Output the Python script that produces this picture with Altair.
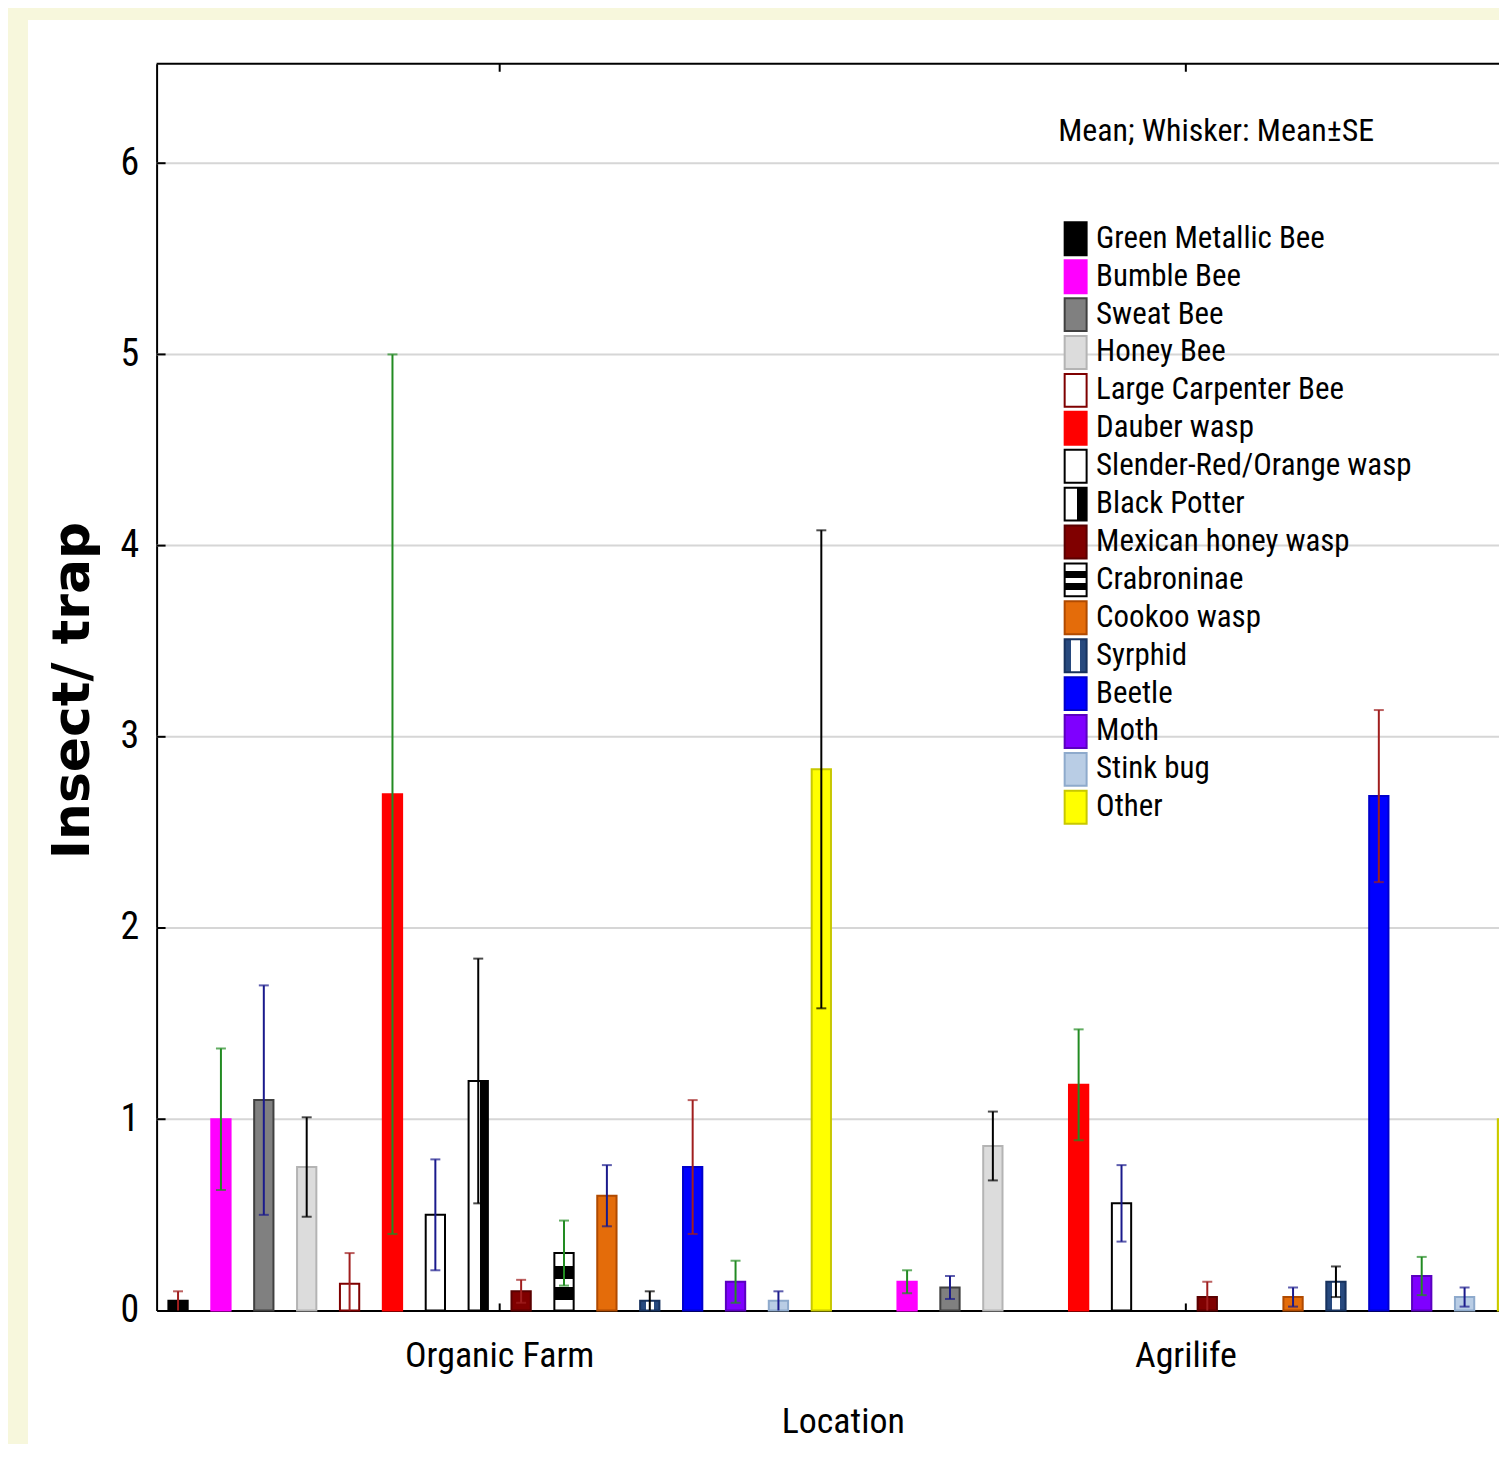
import altair as alt
import pandas as pd

locations = ["Organic Farm", "Agrilife"]
species = [
    "Green Metallic Bee", "Bumble Bee", "Sweat Bee", "Honey Bee",
    "Large Carpenter Bee", "Dauber wasp", "Slender-Red/Orange wasp",
    "Black Potter", "Mexican honey wasp", "Crabroninae", "Cookoo wasp",
    "Syrphid", "Beetle", "Moth", "Stink bug", "Other",
]
organic_mean = [0.05, 1.00, 1.10, 0.75, 0.14, 2.70, 0.50, 1.20, 0.10, 0.30, 0.60, 0.05, 0.75, 0.15, 0.05, 2.83]
organic_se = [0.05, 0.37, 0.60, 0.26, 0.16, 2.30, 0.29, 0.64, 0.06, 0.17, 0.16, 0.05, 0.35, 0.11, 0.05, 1.25]
agrilife_mean = [0.00, 0.15, 0.12, 0.86, 0.00, 1.18, 0.56, 0.00, 0.07, 0.00, 0.07, 0.15, 2.69, 0.18, 0.07, 1.00]
agrilife_se = [0.00, 0.06, 0.06, 0.18, 0.00, 0.29, 0.20, 0.00, 0.08, 0.00, 0.05, 0.08, 0.45, 0.10, 0.05, 0.45]

BLACK_POTTER = {"expr": "{gradient: 'linear', x1: 0, y1: 0, x2: 1, y2: 0, stops: ["
                        "{offset: 0, color: '#ffffff'}, {offset: 0.58, color: '#ffffff'}, "
                        "{offset: 0.58, color: '#000000'}, {offset: 1, color: '#000000'}]}"}
CRABRONINAE = {"expr": "{gradient: 'linear', x1: 0, y1: 0, x2: 0, y2: 1, stops: ["
                       "{offset: 0, color: '#ffffff'}, {offset: 0.22, color: '#ffffff'}, "
                       "{offset: 0.22, color: '#000000'}, {offset: 0.45, color: '#000000'}, "
                       "{offset: 0.45, color: '#ffffff'}, {offset: 0.6, color: '#ffffff'}, "
                       "{offset: 0.6, color: '#000000'}, {offset: 0.82, color: '#000000'}, "
                       "{offset: 0.82, color: '#ffffff'}, {offset: 1, color: '#ffffff'}]}"}
SYRPHID = {"expr": "{gradient: 'linear', x1: 0, y1: 0, x2: 1, y2: 0, stops: ["
                   "{offset: 0, color: '#27497e'}, {offset: 0.3, color: '#27497e'}, "
                   "{offset: 0.3, color: '#ffffff'}, {offset: 0.7, color: '#ffffff'}, "
                   "{offset: 0.7, color: '#27497e'}, {offset: 1, color: '#27497e'}]}"}

fill_colors = ["#000000", "#ff00ff", "#808080", "#dcdcdc", "#ffffff", "#ff0000", "#ffffff", BLACK_POTTER,
               "#800000", CRABRONINAE, "#e46c0a", SYRPHID, "#0000ff", "#7f00ff", "#b9cde5", "#ffff00"]
stroke_colors = ["#000000", "#ff00ff", "#404040", "#b4b4b4", "#7f0000", "#ff0000", "#000000", "#000000",
                 "#5a0000", "#000000", "#b04a00", "#17325e", "#0000cc", "#5a00c0", "#8eaacc", "#c8c800"]
whisker_colors = ["#a01e1e", "#228b22", "#1a1a8c", "#000000"]
y_ticks = [0, 1, 2, 3, 4, 5, 6]

rows = []
for loc, means, ses in ((locations[0], organic_mean, organic_se),
                        (locations[1], agrilife_mean, agrilife_se)):
    for i, (sp, m, s) in enumerate(zip(species, means, ses)):
        if m <= 0:
            continue
        rows.append({"Location": loc, "Species": sp, "mean": m,
                     "lo": max(0.0, m - s), "hi": m + s,
                     "wcolor": whisker_colors[i % 4]})
df = pd.DataFrame(rows)
grid_df = pd.DataFrame({"v": y_ticks[1:]})
loc_df = pd.DataFrame({"Location": locations})
one = pd.DataFrame({"k": [0]})

W, H, XR = 1346, 1250, 1376
NARROW = "Roboto Condensed, Liberation Sans Narrow, Liberation Sans, sans-serif"

yscale = alt.Scale(domain=[0, 6.52], nice=False, zero=True)
xscale = alt.Scale(domain=locations, range=[0, XR], paddingInner=0, paddingOuter=0)
oscale = alt.Scale(domain=species, paddingInner=0.55, paddingOuter=0.275)

x_axis = alt.Axis(title="Location", labelAngle=0, labelFont=NARROW, labelFontSize=36,
                  labelColor="#000000", labelPadding=28, labelLimit=600, ticks=False, grid=False,
                  domainColor="#000000", domainWidth=2, titleFont=NARROW, titleFontSize=36,
                  titleFontWeight="normal", titleColor="#000000", titleY=94,
                  titleBaseline="top", titleLimit=600)
y_axis = alt.Axis(title="Insect/ trap", values=y_ticks, format="d", labelFont=NARROW,
                  labelFontSize=38, labelColor="#000000", labelPadding=18, ticks=False,
                  grid=False, domainColor="#000000", domainWidth=2,
                  titleFont="DejaVu Sans", titleFontSize=52, titleFontWeight="bold",
                  titleColor="#000000", titleX=-57, titleY=628, titleAngle=270,
                  titleAlign="center", titleBaseline="bottom", titleLimit=800)

legend = alt.Legend(title="Mean; Whisker: Mean±SE", orient="none", legendX=904, legendY=52,
                    titleFont=NARROW, titleFontSize=32, titleFontWeight="normal",
                    titleColor="#000000", titlePadding=74, titleLimit=800,
                    labelFont=NARROW, labelFontSize=31,
                    labelColor="#000000", labelLimit=800, labelOffset=3,
                    symbolType="M-0.667,-1H0.667V1H-0.667Z", symbolSize=1089,
                    symbolStrokeWidth=2, rowPadding=-5, padding=0)


def xenc():
    return alt.X("Location:N", sort=locations, scale=xscale, axis=x_axis)


def oenc():
    return alt.XOffset("Species:N", sort=species, scale=oscale)


def yenc(field):
    return alt.Y(field, scale=yscale, axis=y_axis)


strip_left = alt.Chart(one).mark_rect(color="#f7f7dc").encode(
    x=alt.value(-160), x2=alt.value(-129), y=alt.value(-70), y2=alt.value(H + 300))
strip_top = alt.Chart(one).mark_rect(color="#f7f7dc").encode(
    x=alt.value(-160), x2=alt.value(XR + 100), y=alt.value(-70), y2=alt.value(-44))

grid = alt.Chart(grid_df).mark_rule(color="#d6d6d6", strokeWidth=2).encode(
    y=yenc("v:Q"), x=alt.value(0), x2=alt.value(XR))

bars = alt.Chart(df).mark_bar(strokeWidth=2).encode(
    x=xenc(), xOffset=oenc(), y=yenc("mean:Q"),
    fill=alt.Fill("Species:N", scale=alt.Scale(domain=species, range=fill_colors), legend=legend),
    stroke=alt.Stroke("Species:N", scale=alt.Scale(domain=species, range=stroke_colors), legend=legend),
)

whisk = alt.Chart(df).mark_rule(strokeWidth=2).encode(
    x=xenc(), xOffset=oenc(), y=yenc("lo:Q"), y2="hi:Q",
    color=alt.Color("wcolor:N", scale=None),
)

cap_hi = alt.Chart(df).mark_tick(size=10, thickness=2).encode(
    x=xenc(), xOffset=oenc(), y=yenc("hi:Q"),
    color=alt.Color("wcolor:N", scale=None),
)
cap_lo = alt.Chart(df).transform_filter("datum.lo > 0").mark_tick(size=10, thickness=2).encode(
    x=xenc(), xOffset=oenc(), y=yenc("lo:Q"),
    color=alt.Color("wcolor:N", scale=None),
)

ytick_in = alt.Chart(grid_df).mark_rule(color="#000000", strokeWidth=2).encode(
    y=yenc("v:Q"), x=alt.value(0), x2=alt.value(9))

top_border = alt.Chart(one).mark_rule(color="#000000", strokeWidth=2).encode(
    y=alt.value(0), x=alt.value(0), x2=alt.value(XR))

top_ticks = alt.Chart(loc_df).mark_rule(color="#000000", strokeWidth=2).encode(
    x=xenc(), y=alt.value(0), y2=alt.value(8))
bot_ticks = alt.Chart(loc_df).mark_rule(color="#000000", strokeWidth=2).encode(
    x=xenc(), y=alt.value(H - 7), y2=alt.value(H))

chart = alt.layer(strip_left, strip_top, grid, bars, whisk, cap_hi, cap_lo, ytick_in,
                  top_border, top_ticks, bot_ticks).properties(
    width=W, height=H,
    padding={"left": 149, "top": 54, "right": 0, "bottom": 132},
    autosize=alt.AutoSizeParams(type="none"),
    background="#ffffff",
).configure_view(stroke=None)

chart.save("out.html", embed_options={"renderer": "svg", "actions": False})
